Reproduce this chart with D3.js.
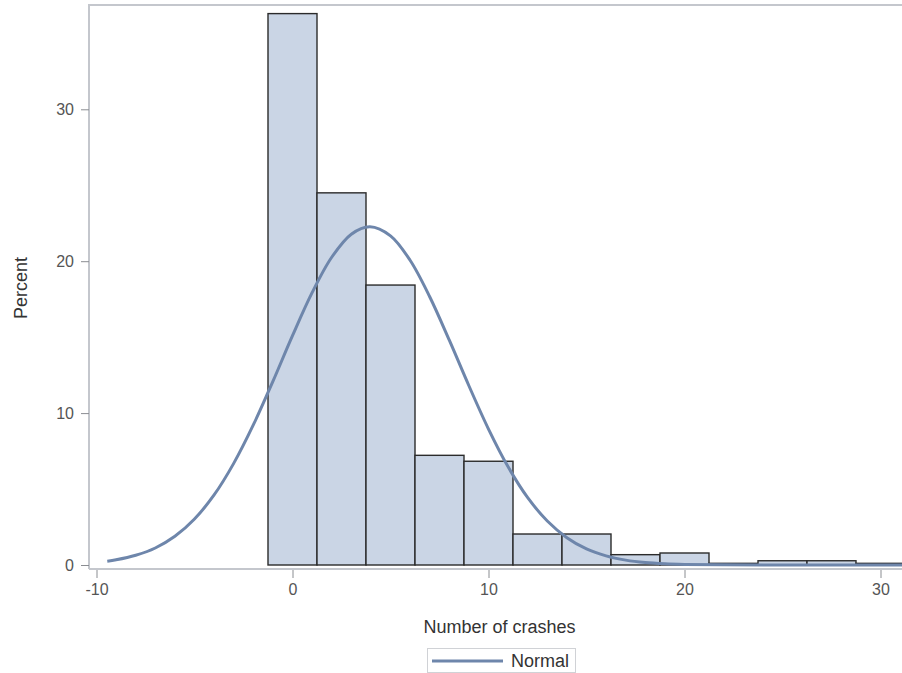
<!DOCTYPE html>
<html>
<head>
<meta charset="utf-8">
<script src="https://cdn.jsdelivr.net/npm/d3@7"></script>
<style>
  body { margin: 0; background: #fff; }
  text { font-family: "Liberation Sans", Arial, sans-serif; }
</style>
</head>
<body>
<svg class="hist" width="902" height="673"></svg>
<script>
// histogram bins (midpoints, width 2.5) and their percents
const binMids = [0, 2.5, 5, 7.5, 10, 12.5, 15, 17.5, 20, 22.5, 25, 27.5, 30];
const binPercents = [36.3, 24.5, 18.43, 7.22, 6.83, 2.04, 2.04, 0.68, 0.79, 0.11, 0.28, 0.28, 0.11];
const binWidth = 2.5;

// fitted normal curve
const curveX = [-9.45, -9, -8, -7, -6, -5, -4, -3, -2, -1, 0, 1, 2, 3, 3.95, 5, 6, 7, 8, 9, 10,
    11, 12, 13, 14, 15, 16, 17, 18, 19, 20, 22, 25, 32];
const curveY = [0.25, 0.34, 0.64, 1.12, 1.89, 3.03, 4.61, 6.69, 9.22, 12.09, 15.1, 17.93, 20.26, 21.78, 22.27,
    21.67, 20.06, 17.66, 14.8, 11.8, 8.95, 6.46, 4.43, 2.9, 1.8, 1.06, 0.6, 0.32, 0.16, 0.08, 0.04, 0.01, 0, 0];

const xTicks = [-10, 0, 10, 20, 30];
const yTicks = [0, 10, 20, 30];

const svg = d3.select('.hist');

const frame = { left: 89, top: 5, bottom: 569 };

const x = d3.scaleLinear().domain([-10, 30]).range([96.5, 880.5]);
const y = d3.scaleLinear().domain([0, 30]).range([565, 109.3]);

// frame
svg.append('path')
    .attr('d', `M${frame.left},${frame.bottom}V${frame.top}H910`)
    .attr('fill', 'none')
    .attr('stroke', '#c4c7cd')
    .attr('stroke-width', 2);
svg.append('line')
    .attr('x1', frame.left).attr('x2', 910)
    .attr('y1', frame.bottom).attr('y2', frame.bottom)
    .attr('stroke', '#c4c7cd')
    .attr('stroke-width', 2);

// bars
svg.append('g')
    .selectAll('rect')
    .data(binMids)
    .enter()
    .append('rect')
    .attr('x', d => x(d - binWidth / 2))
    .attr('width', d => x(d + binWidth / 2) - x(d - binWidth / 2))
    .attr('y', (d, i) => y(binPercents[i]))
    .attr('height', (d, i) => y(0) - y(binPercents[i]))
    .attr('fill', '#cad5e5')
    .attr('stroke', '#2b2b2b')
    .attr('stroke-width', 1.4);

// normal curve
const line = d3.line()
    .x(d => x(d[0]))
    .y(d => y(d[1]))
    .curve(d3.curveCatmullRom);

svg.append('path')
    .datum(curveX.map((v, i) => [v, curveY[i]]))
    .attr('d', line)
    .attr('fill', 'none')
    .attr('stroke', '#6e86ab')
    .attr('stroke-width', 3);

// axes (plain hyphen for negatives, like the original)
const plain = d => String(d);

const yAxisG = svg.append('g')
    .attr('transform', `translate(${frame.left}, 0)`)
    .call(d3.axisLeft(y).tickValues(yTicks).tickFormat(plain).tickSize(8).tickPadding(7));
yAxisG.select('.domain').remove();
yAxisG.selectAll('.tick line').attr('stroke', '#8a8d92');
yAxisG.selectAll('.tick text')
    .attr('fill', '#555')
    .style('font-size', '16px');

const xAxisG = svg.append('g')
    .attr('transform', `translate(0, ${frame.bottom + 1})`)
    .call(d3.axisBottom(x).tickValues(xTicks).tickFormat(plain).tickSize(8).tickPadding(6));
xAxisG.select('.domain').remove();
xAxisG.selectAll('.tick line').attr('stroke', '#8a8d92');
xAxisG.selectAll('.tick text')
    .attr('fill', '#555')
    .style('font-size', '16px');

// axis labels
svg.append('text')
    .attr('x', 499.5)
    .attr('y', 633)
    .attr('text-anchor', 'middle')
    .attr('fill', '#333')
    .style('font-size', '18px')
    .text('Number of crashes');

svg.append('text')
    .attr('transform', 'translate(27, 288) rotate(-90)')
    .attr('text-anchor', 'middle')
    .attr('fill', '#333')
    .style('font-size', '18px')
    .text('Percent');

// legend
const legend = svg.append('g');
legend.append('rect')
    .attr('x', 427.5).attr('y', 648.5)
    .attr('width', 148).attr('height', 24)
    .attr('fill', '#fff')
    .attr('stroke', '#d0d2d6');
legend.append('line')
    .attr('x1', 432).attr('x2', 503)
    .attr('y1', 661).attr('y2', 661)
    .attr('stroke', '#6e86ab')
    .attr('stroke-width', 3);
legend.append('text')
    .attr('x', 511)
    .attr('y', 667)
    .attr('fill', '#333')
    .style('font-size', '18px')
    .text('Normal');
</script>
</body>
</html>
